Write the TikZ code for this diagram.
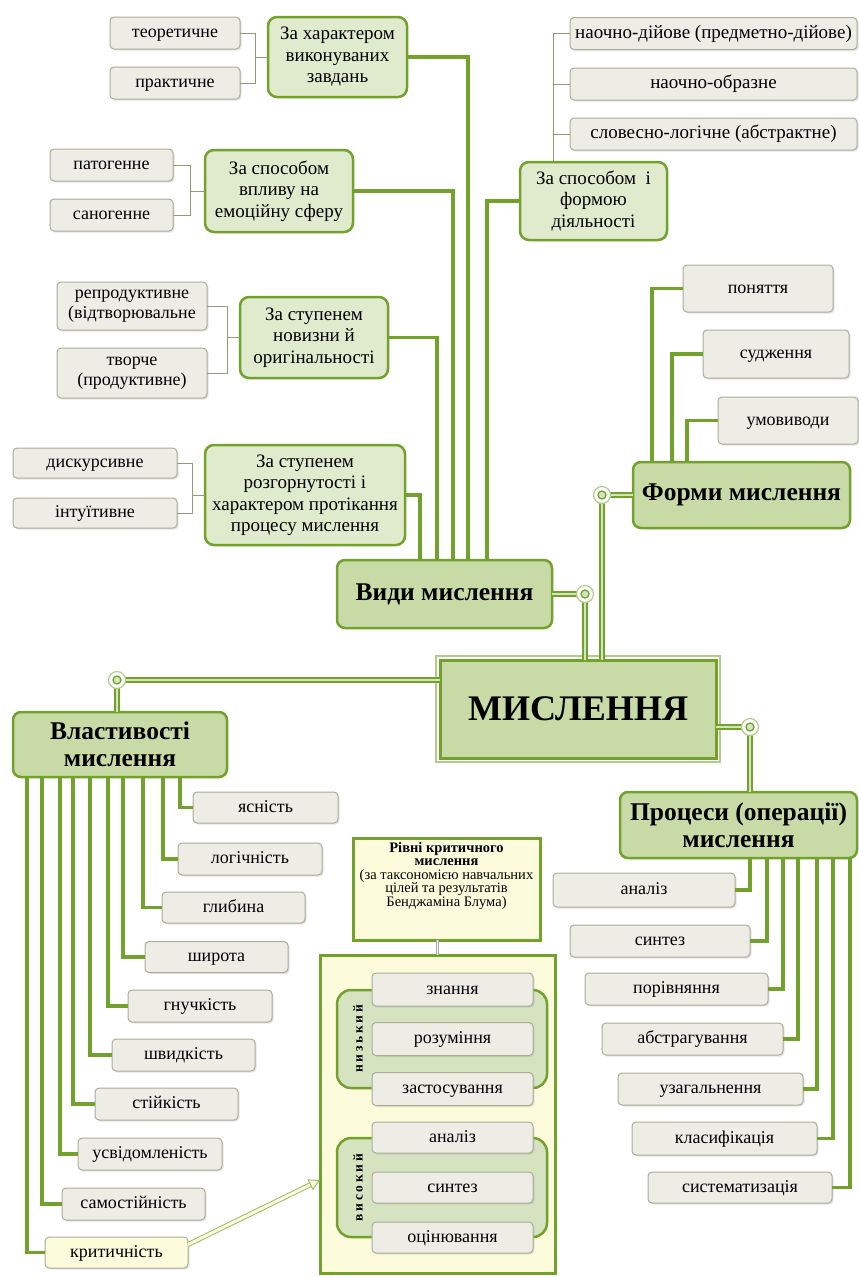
\documentclass[tikz,border=0pt]{standalone}
\usepackage{fontspec}
\setmainfont{Liberation Serif}
\newfontfamily\spacedfnt{Liberation Serif}[LetterSpace=20]
\usetikzlibrary{shapes,arrows,arrows.meta,calc,shadows}
\usepackage{color}

\definecolor{linegreen}{HTML}{72A12C}
\definecolor{catfill}{HTML}{E0EACD}
\definecolor{mainfill}{HTML}{C8DAA6}
\definecolor{leaffill}{HTML}{EDEDE5}
\definecolor{leafdraw}{HTML}{A9AE98}
\definecolor{brgray}{HTML}{8E9C7A}
\definecolor{yellowfill}{HTML}{FCFCDC}
\definecolor{groupfill}{HTML}{D6E3C1}
\definecolor{dfill}{HTML}{D4E4BC}

\newcommand{\leaffnt}{\fontsize{18}{20}\selectfont}
\newcommand{\catfnt}{\fontsize{19}{21.5}\selectfont}
\newcommand{\headfnt}{\bfseries\fontsize{25.5}{27}\selectfont}
\newcommand{\topfnt}{\bfseries\fontsize{36}{40}\selectfont}
\newcommand{\smallfnt}{\fontsize{14.5}{13.5}\selectfont}

\tikzset{
  leafbase/.style={rectangle, rounded corners=4pt, draw=leafdraw, line width=1pt,
    fill=leaffill, inner sep=0pt, font=\leaffnt, minimum height=32,
    drop shadow={opacity=0.22, shadow xshift=1.5pt, shadow yshift=-1.5pt}},
  leaf/.style={leafbase, text height=13pt, text depth=4pt},
  leaftwo/.style={leafbase, align=center},
  cat/.style={rectangle, rounded corners=9pt, draw=linegreen, line width=2.5pt,
    fill=catfill, inner sep=0pt, align=center, font=\catfnt},
  mainbox/.style={rectangle, rounded corners=8pt, draw=linegreen, line width=2.5pt,
    fill=mainfill, inner sep=0pt, align=center, font=\headfnt},
  yellowbox/.style={rectangle, draw=linegreen, line width=3pt, fill=yellowfill, inner sep=0pt},
  group/.style={rectangle, rounded corners=14pt, draw=linegreen, line width=2.5pt,
    fill=groupfill, inner sep=0pt},
  conn/.style={draw=linegreen, line width=3.5pt},
  bracket/.style={draw=brgray, line width=0.9pt},
  dconn/.style={draw=linegreen, line width=1.3pt, double=dfill, double distance=2.5pt},
  ring/.style={circle, draw=linegreen!55, line width=1.2pt, fill=white, minimum size=17,
    inner sep=0pt, path picture={\draw[linegreen, line width=1.3pt, fill=dfill]
    (path picture bounding box.center) circle (4pt);}}
}

\begin{document}
\begin{tikzpicture}[x=1pt, y=-1pt, outer sep=0pt, >=latex']

\useasboundingbox (0,0) rectangle (859,1277);

% Види мислення
\node[cat, minimum width=139, minimum height=80] at (337.5,57) (ZAHAR) {За характером\\виконуваних\\завдань};
\node[leaf, minimum width=130] at (175,33) (TEOR) {теоретичне};
\node[leaf, minimum width=130] at (175,83) (PRAKT) {практичне};

\node[cat, minimum width=148, minimum height=82] at (279,191) (ZAVPL) {За способом\\впливу на\\емоційну сферу};
\node[leaf, minimum width=123] at (111.5,165) (PATOG) {патогенне};
\node[leaf, minimum width=123] at (111.5,215) (SANOG) {саногенне};

\node[cat, minimum width=147, minimum height=78] at (593.5,201) (ZAFORM) {За способом~ і\\формою\\діяльності};
\node[leaf, minimum width=287, font=\fontsize{19}{21}\selectfont] at (713.5,33.5) (NAOCH1) {наочно-дійове (предметно-дійове)};
\node[leaf, minimum width=287, font=\fontsize{19}{21}\selectfont] at (713.5,84) (NAOCH2) {наочно-образне};
\node[leaf, minimum width=287, font=\fontsize{19}{21}\selectfont] at (713.5,134) (SLOV) {словесно-логічне (абстрактне)};

\node[cat, minimum width=148, minimum height=81] at (314,337.5) (ZANOV) {За ступенем\\новизни й\\оригінальності};
\node[leaftwo, minimum width=150, minimum height=48] at (132,306) (REPR) {репродуктивне\\(відтворювальне};
\node[leaftwo, minimum width=150, minimum height=50] at (132,373) (TVOR) {творче\\(продуктивне)};

\node[cat, minimum width=200, minimum height=100] at (305,495) (ZAROZG) {За ступенем\\розгорнутості і\\характером протікання\\процесу мислення};
\node[leaf, minimum width=164, minimum height=30] at (95,463) (DYSK) {дискурсивне};
\node[leaf, minimum width=164, minimum height=30] at (95,513) (INTU) {інтуїтивне};

\node[mainbox, minimum width=215, minimum height=68] at (444.5,594) (VYDY) {Види мислення};

\draw[bracket] (TEOR.east) -- ++(15,0) |- (PRAKT.east);
\draw[bracket] (ZAHAR.west) -- ++(-13,0);
\draw[bracket] (PATOG.east) -- ++(17,0) |- (SANOG.east);
\draw[bracket] (ZAVPL.west) -- ++(-15,0);
\draw[bracket] (REPR.east) -- ++(20,0) |- (TVOR.east);
\draw[bracket] (ZANOV.west) -- ++(-13,0);
\draw[bracket] (DYSK.east) -- ++(15,0) |- (INTU.east);
\draw[bracket] (ZAROZG.west) -- ++(-13,0);
\draw[bracket] ([xshift=33]ZAFORM.north west) |- (NAOCH1.west);
\draw[bracket] ([xshift=33]ZAFORM.north west) |- (NAOCH2.west);
\draw[bracket] ([xshift=33]ZAFORM.north west) |- (SLOV.west);

\draw[conn] (ZAHAR.east) -| ([xshift=131]VYDY.north west);
\draw[conn] (ZAVPL.east) -| ([xshift=116]VYDY.north west);
\draw[conn] (ZANOV.east) -| ([xshift=100]VYDY.north west);
\draw[conn] (ZAROZG.east) -| ([xshift=83]VYDY.north west);
\draw[conn] (ZAFORM.west) -| ([xshift=150]VYDY.north west);

% Форми мислення
\node[mainbox, minimum width=217, minimum height=66] at (741.5,495) (FORMY) {Форми мислення};
\node[leaf, minimum width=150, minimum height=47] at (758,288.5) (PONYAT) {поняття};
\node[leaf, minimum width=146, minimum height=48] at (776,354) (SUDZH) {судження};
\node[leaf, minimum width=140, minimum height=47] at (788,420.5) (UMOV) {умовиводи};
\draw[conn] ([xshift=19]FORMY.north west) |- (PONYAT.west);
\draw[conn] ([xshift=39]FORMY.north west) |- (SUDZH.west);
\draw[conn] ([xshift=54]FORMY.north west) |- (UMOV.west);

% центр
\node[mainbox, rounded corners=0pt, line width=3pt, minimum width=276, minimum height=98, font=\topfnt] at (578,709) (MYSL) {МИСЛЕННЯ};
\draw[linegreen!55, line width=1.2pt] ([shift={(-4pt,4pt)}]MYSL.north west) rectangle ([shift={(4pt,-4pt)}]MYSL.south east);

\node[mainbox, minimum width=214, minimum height=65] at (120,744.5) (VLAST) {Властивості\\мислення};
\node[mainbox, minimum width=237, minimum height=66] at (738.5,825) (PROC) {Процеси (операції)\\мислення};

\coordinate (RV) at (585,594);
\coordinate (RF) at (602,495);
\coordinate (RL) at (117,680);
\coordinate (RP) at (750,727);
\draw[dconn] (VYDY.east) -- (RV) -- (RV |- MYSL.north);
\draw[dconn] (FORMY.west) -- (RF) -- (RF |- MYSL.north);
\draw[dconn] ([yshift=29]MYSL.west) -- (RL) -- (RL |- VLAST.north);
\draw[dconn] ([yshift=-18]MYSL.east) -- (RP) -- (RP |- PROC.north);
\node[ring] at (RV) {};
\node[ring] at (RF) {};
\node[ring] at (RL) {};
\node[ring] at (RP) {};

% Властивості мислення
\node[leaf, minimum width=145, minimum height=31] at (265.5,807.5) (YASN) {ясність};
\node[leaf, minimum width=144] at (250,859) (LOGI) {логічність};
\node[leaf, minimum width=143, minimum height=31] at (233.5,907.5) (GLYB) {глибина};
\node[leaf, minimum width=143, minimum height=31] at (216.5,957) (SHYR) {широта};
\node[leaf, minimum width=144] at (200,1006) (HNUCH) {гнучкість};
\node[leaf, minimum width=143] at (183.5,1055) (SHVYD) {швидкість};
\node[leaf, minimum width=143] at (166.5,1104) (STIY) {стійкість};
\node[leaf, minimum width=144] at (150,1154) (USVID) {усвідомленість};
\node[leaf, minimum width=143] at (133.5,1204) (SAMOS) {самостійність};
\node[leaf, minimum width=143, minimum height=31, fill=yellowfill] at (116.5,1252.5) (KRYT) {критичність};
\draw[conn] ([xshift=167]VLAST.south west) |- (YASN.west);
\draw[conn] ([xshift=150]VLAST.south west) |- (LOGI.west);
\draw[conn] ([xshift=130]VLAST.south west) |- (GLYB.west);
\draw[conn] ([xshift=110]VLAST.south west) |- (SHYR.west);
\draw[conn] ([xshift=95]VLAST.south west) |- (HNUCH.west);
\draw[conn] ([xshift=77]VLAST.south west) |- (SHVYD.west);
\draw[conn] ([xshift=60]VLAST.south west) |- (STIY.west);
\draw[conn] ([xshift=47]VLAST.south west) |- (USVID.west);
\draw[conn] ([xshift=29]VLAST.south west) |- (SAMOS.west);
\draw[conn] ([xshift=14]VLAST.south west) |- (KRYT.west);

% Процеси мислення
\node[leaf, minimum width=182, minimum height=34] at (644,890) (ANAL) {аналіз};
\node[leaf, minimum width=180] at (660,941) (SYNT) {синтез};
\node[leaf, minimum width=183] at (676.5,989) (PORIV) {порівняння};
\node[leaf, minimum width=181] at (692.5,1039) (ABSTR) {абстрагування};
\node[leaf, minimum width=185] at (710.5,1089) (UZAH) {узагальнення};
\node[leaf, minimum width=185, minimum height=33] at (724.5,1138.5) (KLAS) {класифікація};
\node[leaf, minimum width=184, minimum height=31] at (740,1187.5) (SYST) {систематизація};
\draw[conn] ([xshift=130]PROC.south west) |- (ANAL.east);
\draw[conn] ([xshift=147]PROC.south west) |- (SYNT.east);
\draw[conn] ([xshift=163]PROC.south west) |- (PORIV.east);
\draw[conn] ([xshift=178]PROC.south west) |- (ABSTR.east);
\draw[conn] ([xshift=197]PROC.south west) |- (UZAH.east);
\draw[conn] ([xshift=213]PROC.south west) |- (KLAS.east);
\draw[conn] ([xshift=230]PROC.south west) |- (SYST.east);

% Рівні критичного мислення
\node[yellowbox, minimum width=187, minimum height=102] at (446.5,889) (RIVNI) {\parbox[c][94pt][t]{185pt}{\centering\smallfnt\textbf{Рівні критичного\\мислення}\\(за таксономією навчальних\\цілей та результатів\\Бенджаміна Блума)}};
\node[yellowbox, minimum width=235, minimum height=318] at (437.5,1114) (VELYK) {};
\draw[draw=gray!70, line width=0.6pt, double=white, double distance=1.5pt] (VELYK.north |- RIVNI.south) -- (VELYK.north);

\node[group, minimum width=210, minimum height=98] at (442,1039) (NYZK) {};
\node[group, minimum width=210, minimum height=99] at (442,1187.5) (VYSOK) {};
\node[leaf, minimum width=161, minimum height=33] at (452.5,989.5) (ZNAN) {знання};
\node[leaf, minimum width=161, minimum height=33] at (452.5,1039) (ROZUM) {розуміння};
\node[leaf, minimum width=161, minimum height=33] at (452.5,1089) (ZAST) {застосування};
\node[leaf, minimum width=161, minimum height=31] at (452.5,1137.5) (ANAL2) {аналіз};
\node[leaf, minimum width=161, minimum height=31] at (452.5,1187.5) (SYNT2) {синтез};
\node[leaf, minimum width=161, minimum height=31] at (452.5,1237.5) (OCIN) {оцінювання};
\node[rotate=90, font=\spacedfnt\bfseries\fontsize{13.5}{13.5}\selectfont] at (358,1039) (NYZKLBL) {низький};
\node[rotate=90, font=\spacedfnt\bfseries\fontsize{13.5}{13.5}\selectfont] at (358,1187.5) (VYSLBL) {високий};

\draw[draw=linegreen!70, line width=1pt, double=yellowfill, double distance=3pt,
  -{Triangle[open, length=11pt, width=12pt, fill=yellowfill]}]
  ([yshift=8]KRYT.east) -- ([yshift=-66]VELYK.west);

\end{tikzpicture}
\end{document}
